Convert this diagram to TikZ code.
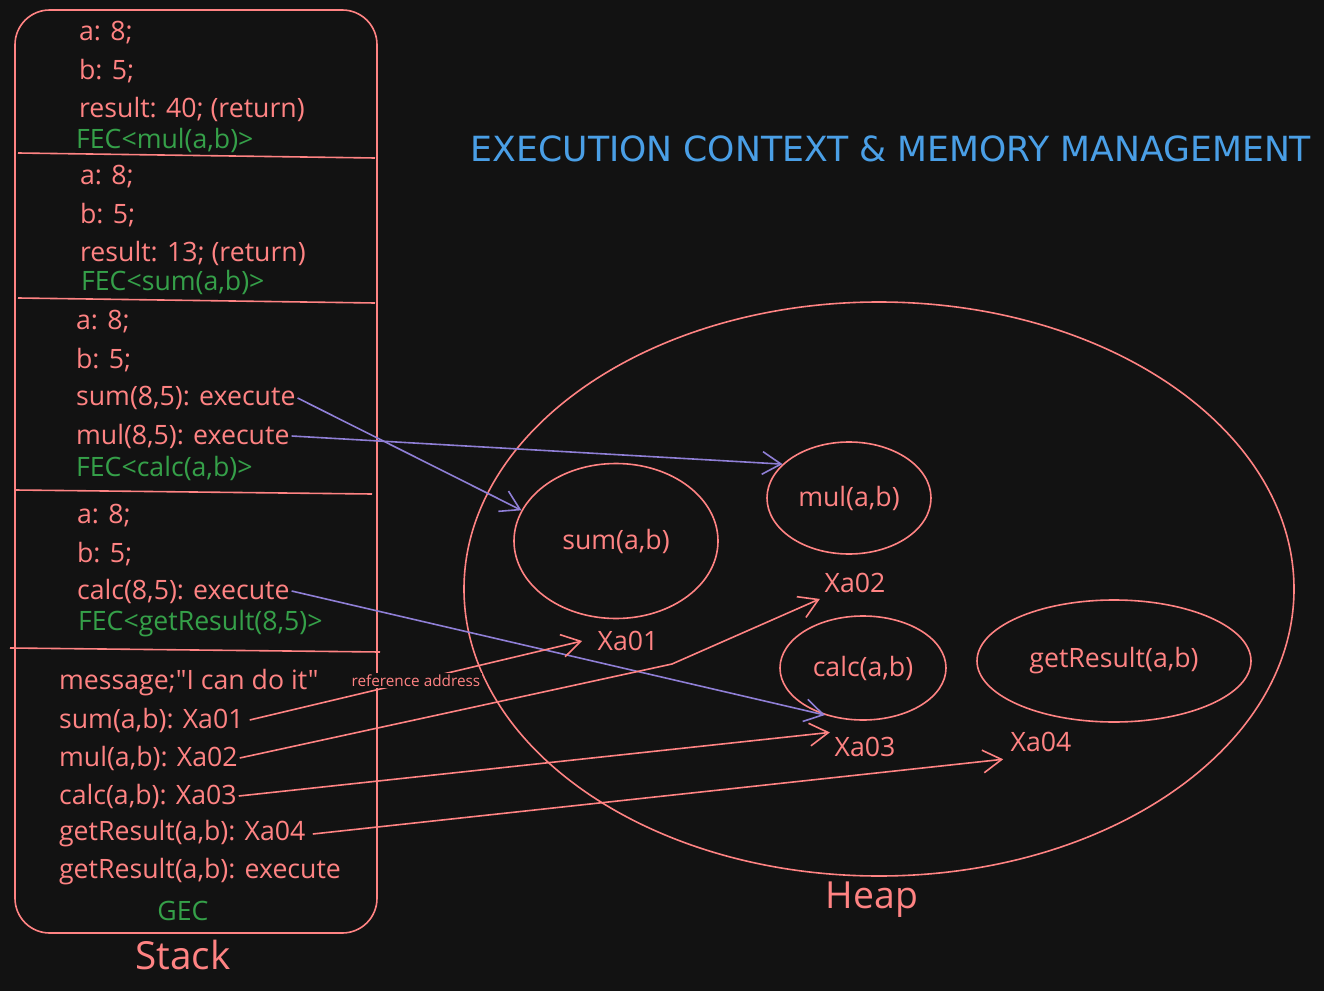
\documentclass[tikz,border=0pt]{standalone}
\usepackage{fontspec}
\setmainfont{Open Sans}[Ligatures=TeXOff]
\newfontfamily\titlefont{DejaVu Sans}
\usetikzlibrary{arrows.meta,shapes.geometric}
\definecolor{bgcol}{HTML}{121212}
\definecolor{salmon}{HTML}{FF8383}
\definecolor{ecgreen}{HTML}{35A049}
\definecolor{ecblue}{HTML}{4A9FE6}
\definecolor{ecviolet}{HTML}{8F7FD6}
\begin{document}
\begin{tikzpicture}
    [
    x=0.75pt,y=-0.75pt,
    line width=1.2pt,
    txt/.style={anchor=west,inner sep=1pt,text=salmon,font=\fontsize{20}{22}\selectfont},
    fec/.style={txt,text=ecgreen},
    blob/.style={ellipse,draw=salmon,inner sep=0pt,text=salmon,font=\fontsize{20}{22}\selectfont},
    addr/.style={inner sep=1pt,text=salmon,font=\fontsize{20}{22}\selectfont},
    ref/.style={draw=salmon,-{Straight Barb[length=14pt,width=17pt]}},
    call/.style={draw=ecviolet,-{Straight Barb[length=14pt,width=17pt]}}
    ]
    \fill [bgcol] (0,0) rectangle (1324,991);
    \useasboundingbox (0,0) rectangle (1324,991);
    % title
    \node (title) at (891,149) [text=ecblue,font=\titlefont\fontsize{26}{28}\selectfont] {EXECUTION CONTEXT \& MEMORY MANAGEMENT};
    % stack
    \draw [salmon,rounded corners=26pt] (15,10) rectangle (377,933);
    \draw [salmon] (18,153) -- (375,158);
    \draw [salmon] (18,298) -- (375,303);
    \draw [salmon] (15,490) -- (372,494);
    \draw [salmon] (10,648) -- (380,652);
    % FEC mul
    \node (ma) at (77,33) [txt] {a: 8;};
    \node (mb) at (77,71) [txt] {b: 5;};
    \node (mr) at (77,109) [txt] {result: 40; (return)};
    \node (mfec) at (74,140) [fec] {FEC<mul(a,b)>};
    % FEC sum
    \node (sa) at (78,177) [txt] {a: 8;};
    \node (sb) at (78,215) [txt] {b: 5;};
    \node (sr) at (78,253) [txt] {result: 13; (return)};
    \node (sfec) at (79,282) [fec] {FEC<sum(a,b)>};
    % FEC calc
    \node (ca) at (74,322) [txt] {a: 8;};
    \node (cb) at (74,360) [txt] {b: 5;};
    \node (csum) at (74,398) [txt] {sum(8,5): execute};
    \node (cmul) at (74,436) [txt] {mul(8,5): execute};
    \node (cfec) at (74,468) [fec] {FEC<calc(a,b)>};
    % FEC getResult
    \node (ga) at (75,516) [txt] {a: 8;};
    \node (gb) at (75,554) [txt] {b: 5;};
    \node (gcalc) at (75,591) [txt] {calc(8,5): execute};
    \node (gfec) at (76,624) [fec] {FEC<getResult(8,5)>};
    % GEC
    \node (msg) at (57,683) [txt] {message;"I can do it"};
    \node (rsum) at (57,720) [txt] {sum(a,b): Xa01};
    \node (rmul) at (57,758) [txt] {mul(a,b): Xa02};
    \node (rcalc) at (57,796) [txt] {calc(a,b): Xa03};
    \node (rget) at (57,834) [txt] {getResult(a,b): Xa04};
    \node (rexec) at (57,872) [txt] {getResult(a,b): execute};
    \node (gec) at (183,911) [text=ecgreen,font=\fontsize{20}{22}\selectfont] {GEC};
    \node (stack) at (183,955) [text=salmon,font=\fontsize{29}{31}\selectfont] {Stack};
    % heap
    \node (heap) at (879,589) [ellipse,draw=salmon,minimum width=830*0.75pt,minimum height=574*0.75pt] {};
    \node (heaplbl) at (872,900) [text=salmon,font=\fontsize{28}{30}\selectfont] {Heap};
    \node (fsum) at (616,541) [blob,minimum width=204*0.75pt,minimum height=155*0.75pt] {sum(a,b)};
    \node (fmul) at (849,498) [blob,minimum width=164*0.75pt,minimum height=112*0.75pt] {mul(a,b)};
    \node (fcalc) at (863,668) [blob,minimum width=166*0.75pt,minimum height=104*0.75pt] {calc(a,b)};
    \node (fget) at (1114,661) [blob,minimum width=274*0.75pt,minimum height=122*0.75pt] {getResult(a,b)};
    \node (xa01) at (628,641) [addr] {Xa01};
    \node (xa02) at (855,583) [addr] {Xa02};
    \node (xa03) at (865,747) [addr] {Xa03};
    \node (xa04) at (1041,742) [addr] {Xa04};
    \coordinate (bend) at (672,664);
    % calls
    \draw [call] (csum.east) -- (fsum.162);
    \draw [call] (cmul.east) -- (fmul.153);
    \draw [call] (gcalc.east) -- (fcalc.231);
    % references
    \draw [ref] ([xshift=3pt]rsum.east) -- node [fill=bgcol,inner sep=1pt,text=salmon,font=\fontsize{11.5}{12}\selectfont] {reference address} ([xshift=-10pt]xa01.west);
    \draw [ref] (rmul.east) -- (bend) -- ([xshift=-2pt,yshift=-3pt]xa02.south west);
    \draw [ref] (rcalc.east) -- ([xshift=-2pt,yshift=2pt]xa03.north west);
    \draw [ref] ([xshift=4pt]rget.east) -- ([xshift=-4pt,yshift=-4pt]xa04.south west);
  \end{tikzpicture}
\end{document}
